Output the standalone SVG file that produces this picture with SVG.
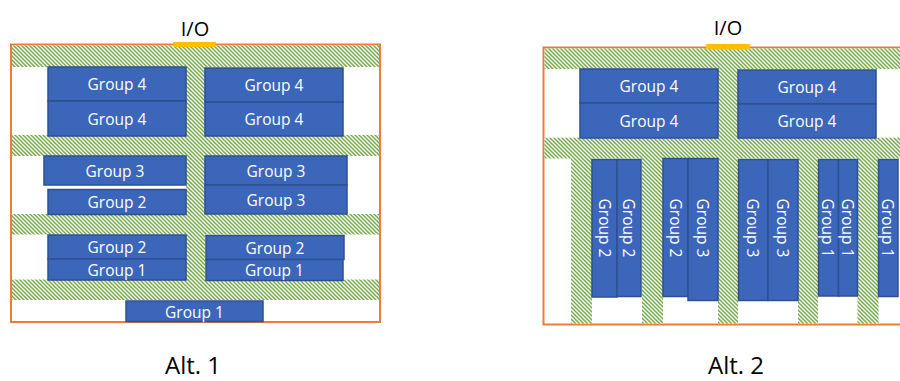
<svg xmlns="http://www.w3.org/2000/svg" width="900" height="381" viewBox="0 0 900 381">
<defs>
<pattern id="hatch" patternUnits="userSpaceOnUse" width="4" height="4">
<rect width="4" height="4" fill="#ffffff"/>
<path d="M-1,-1 L5,5 M-1,3 L1,5 M3,-1 L5,1" stroke="#70AD47" stroke-width="1.5"/>
</pattern>
</defs>
<style>
.hb{fill:url(#hatch);stroke:none}
.frame{fill:#ffffff;stroke:#ED7D31;stroke-width:2}
.io{fill:#FFC000}
.blk{fill:#3C66BA;stroke:#2E5090;stroke-width:1.5}
.t{font-family:"Open Sans","Liberation Sans",sans-serif;font-size:15.5px;fill:#ffffff;text-anchor:middle;dominant-baseline:central}
.lbl{font-family:"Open Sans","Liberation Sans",sans-serif;fill:#000000;text-anchor:middle}
</style>
<rect width="900" height="381" fill="#ffffff"/>

<!-- Alt 1 -->
<g id="alt1-frame">
<rect class="frame" x="11" y="44.5" width="369" height="277.5"/>
<rect class="hb" x="12" y="45.5" width="367" height="21.5"/>
<rect class="hb" x="12" y="135" width="367" height="21"/>
<rect class="hb" x="12" y="214" width="367" height="20.5"/>
<rect class="hb" x="12" y="279.5" width="367" height="20.5"/>
<rect class="hb" x="186" y="45.5" width="19" height="254"/>
</g>
<g id="alt1-io">
<rect class="io" x="173" y="42" width="43" height="5"/>
<text class="lbl" x="195" y="36" font-size="20">I/O</text>
</g>
<g id="a1-g4-l1"><rect class="blk" x="48" y="67" width="138" height="34"/><text class="t" x="117" y="84">Group 4</text></g>
<g id="a1-g4-l2"><rect class="blk" x="48" y="101" width="138" height="35"/><text class="t" x="117" y="118.5">Group 4</text></g>
<g id="a1-g4-r1"><rect class="blk" x="205" y="68" width="138" height="34"/><text class="t" x="274" y="85">Group 4</text></g>
<g id="a1-g4-r2"><rect class="blk" x="205" y="102" width="138" height="34"/><text class="t" x="274" y="119">Group 4</text></g>
<g id="a1-g3-l"><rect class="blk" x="44" y="156" width="142" height="29"/><text class="t" x="115" y="170.5">Group 3</text></g>
<g id="a1-g2-l1"><rect class="blk" x="48" y="189.5" width="138" height="25"/><text class="t" x="117" y="202">Group 2</text></g>
<g id="a1-g3-r1"><rect class="blk" x="205" y="156" width="142" height="29"/><text class="t" x="276" y="170.5">Group 3</text></g>
<g id="a1-g3-r2"><rect class="blk" x="205" y="185" width="142" height="29"/><text class="t" x="276" y="199.5">Group 3</text></g>
<g id="a1-g2-l2"><rect class="blk" x="48" y="235" width="138" height="24"/><text class="t" x="117" y="247">Group 2</text></g>
<g id="a1-g1-l"><rect class="blk" x="48" y="259" width="138" height="21"/><text class="t" x="117" y="269.5">Group 1</text></g>
<g id="a1-g2-r"><rect class="blk" x="206" y="235.5" width="138" height="24"/><text class="t" x="275" y="247.5">Group 2</text></g>
<g id="a1-g1-r"><rect class="blk" x="206" y="259.5" width="137" height="21"/><text class="t" x="274.5" y="270">Group 1</text></g>
<g id="a1-g1-b"><rect class="blk" x="126" y="301" width="137" height="20.5"/><text class="t" x="194.5" y="311.5">Group 1</text></g>
<g id="alt1-label"><text class="lbl" x="193" y="374" font-size="24">Alt. 1</text></g>

<!-- Alt 2 -->
<g id="alt2-frame">
<rect class="frame" x="543.5" y="47.5" width="370" height="277"/>
<rect class="hb" x="544.5" y="48.5" width="356" height="20.5"/>
<rect class="hb" x="544.5" y="137.7" width="356" height="20.8"/>
<rect class="hb" x="718" y="48.5" width="20" height="275"/>
<rect class="hb" x="571" y="158" width="21" height="165.5"/>
<rect class="hb" x="642" y="158" width="21" height="165.5"/>
<rect class="hb" x="798" y="158" width="20" height="165.5"/>
<rect class="hb" x="857.5" y="158" width="21" height="165.5"/>
</g>
<g id="alt2-io">
<rect class="io" x="706" y="44" width="44" height="5.5"/>
<text class="lbl" x="728" y="35" font-size="20">I/O</text>
</g>
<g id="a2-g4-l1"><rect class="blk" x="580" y="69" width="138" height="34"/><text class="t" x="649" y="86">Group 4</text></g>
<g id="a2-g4-l2"><rect class="blk" x="580" y="103" width="138" height="35"/><text class="t" x="649" y="120.5">Group 4</text></g>
<g id="a2-g4-r1"><rect class="blk" x="738" y="70" width="138" height="34"/><text class="t" x="807" y="87">Group 4</text></g>
<g id="a2-g4-r2"><rect class="blk" x="738" y="104" width="138" height="34"/><text class="t" x="807" y="121">Group 4</text></g>
<g id="a2-v1"><rect class="blk" x="592" y="159.5" width="25" height="137.5"/><text class="t" transform="translate(604.5,228) rotate(90)">Group 2</text></g>
<g id="a2-v2"><rect class="blk" x="617" y="159.5" width="24" height="137"/><text class="t" transform="translate(629,228) rotate(90)">Group 2</text></g>
<g id="a2-v3"><rect class="blk" x="663" y="158.5" width="25" height="138"/><text class="t" transform="translate(675.5,228) rotate(90)">Group 2</text></g>
<g id="a2-v4"><rect class="blk" x="688" y="158.5" width="30" height="142"/><text class="t" transform="translate(703,228) rotate(90)">Group 3</text></g>
<g id="a2-v5"><rect class="blk" x="738.5" y="159.5" width="29.5" height="141"/><text class="t" transform="translate(753,228) rotate(90)">Group 3</text></g>
<g id="a2-v6"><rect class="blk" x="768" y="159.5" width="30" height="141"/><text class="t" transform="translate(783,228) rotate(90)">Group 3</text></g>
<g id="a2-v7"><rect class="blk" x="818.5" y="159.5" width="20" height="136.5"/><text class="t" transform="translate(827.5,228) rotate(90)">Group 1</text></g>
<g id="a2-v8"><rect class="blk" x="838.5" y="159.5" width="19" height="136.5"/><text class="t" transform="translate(847.5,228) rotate(90)">Group 1</text></g>
<g id="a2-v9"><rect class="blk" x="878.5" y="159.5" width="19.5" height="137"/><text class="t" transform="translate(887.5,228) rotate(90)">Group 1</text></g>
<g id="alt2-label"><text class="lbl" x="736" y="374" font-size="24">Alt. 2</text></g>
<g id="connectors"></g>
</svg>
